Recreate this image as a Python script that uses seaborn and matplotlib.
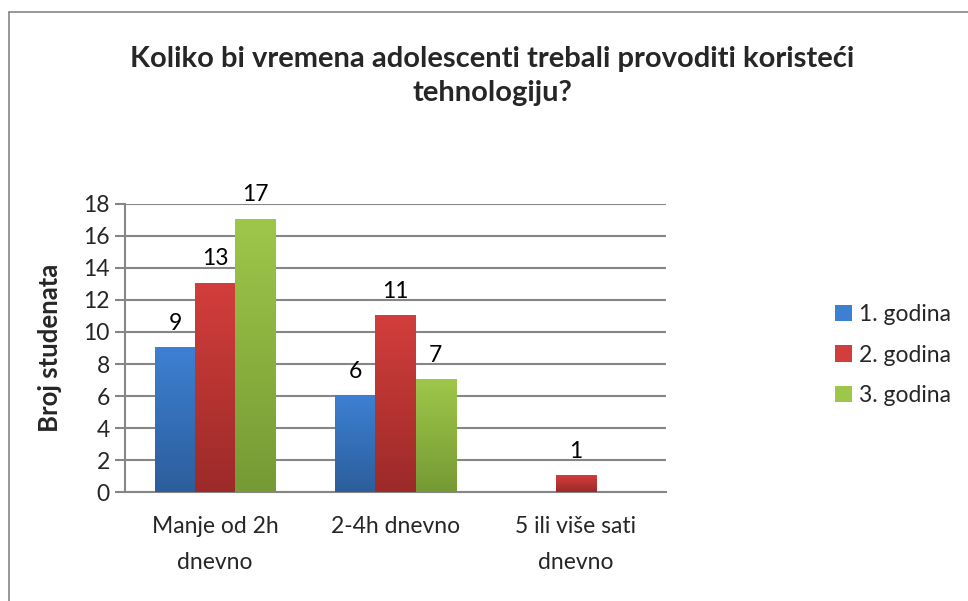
import numpy as np
import pandas as pd
import matplotlib
matplotlib.use("Agg")
import matplotlib.pyplot as plt
from matplotlib.colors import LinearSegmentedColormap
from matplotlib.patches import Patch
from matplotlib.lines import Line2D
import seaborn as sns

# Data
categories = ["Manje od 2h\ndnevno", "2-4h dnevno", "5 ili više sati\ndnevno"]
series = ["1. godina", "2. godina", "3. godina"]
godina1 = [9, 6, 0]
godina2 = [13, 11, 1]
godina3 = [17, 7, 0]
yticks = [0, 2, 4, 6, 8, 10, 12, 14, 16, 18]

title = "Koliko bi vremena adolescenti trebali provoditi koristeći\ntehnologiju?"
ylabel = "Broj studenata"

# Excel-like gradient colors (top, bottom)
grad = {
    "1. godina": ("#3D80D2", "#2C5E9C"),
    "2. godina": ("#D23E3B", "#9C2A29"),
    "3. godina": ("#9EC74A", "#769A34"),
}

df = pd.DataFrame({
    "kategorija": categories * 3,
    "godina": [series[0]] * 3 + [series[1]] * 3 + [series[2]] * 3,
    "broj": godina1 + godina2 + godina3,
})

sns.set_style("white")
plt.rcParams["font.family"] = ["Lato", "DejaVu Sans"]

fs = 16.5

fig = plt.figure(figsize=(9.68, 6.01), dpi=100)
ax = fig.add_axes([125 / 968, 1 - 492.3 / 601, (666 - 125) / 968, (492.3 - 203.7) / 601])

palette = {k: v[0] for k, v in grad.items()}
sns.barplot(data=df, x="kategorija", y="broj", hue="godina", order=categories,
            hue_order=series, palette=palette, width=0.67, ax=ax, legend=False,
            saturation=1, edgecolor="none", zorder=3)

ax.set_ylim(0, 18)

# gradient fill over each bar
for container, name in zip(ax.containers, series):
    cmap = LinearSegmentedColormap.from_list(name, [grad[name][1], grad[name][0]])
    for rect in container:
        x, w, h = rect.get_x(), rect.get_width(), rect.get_height()
        if h <= 0:
            continue
        g = np.linspace(0, 1, 100).reshape(-1, 1)
        ax.imshow(g, extent=[x, x + w, 0, h], origin="lower", aspect="auto",
                  cmap=cmap, zorder=3.5)
        ax.text(x + w / 2, h + 0.9, f"{h:g}", ha="center", va="bottom",
                fontsize=fs, color="#000000")
    for rect in container:
        rect.set_visible(False)

ax.set_xlim(-0.5, 2.5)
ax.set_ylim(0, 18)
ax.set_yticks(yticks)
ax.set_yticklabels([str(t) for t in yticks], fontsize=fs)
ax.set_xticks(range(len(categories)))
ax.set_xticklabels(categories, fontsize=fs, linespacing=1.9)
ax.tick_params(axis="x", length=0, pad=17)
ax.tick_params(axis="y", length=7, width=1.5, color="#868686", pad=4, left=True)
ax.yaxis.grid(True, color="#868686", linewidth=1.5, zorder=0)
ax.set_axisbelow(True)
for s in ["top", "right"]:
    ax.spines[s].set_visible(False)
for s in ["left", "bottom"]:
    ax.spines[s].set_color("#868686")
    ax.spines[s].set_linewidth(1.5)
ax.set_xlabel("")
ax.set_ylabel(ylabel, fontsize=18.5, fontweight="bold")
ax.yaxis.set_label_coords(-0.116, 0.5)

fig.text(492 / 968, 1 - 46 / 601, title, ha="center", va="top", fontsize=21,
         fontweight="bold", linespacing=1.4)

handles = [Patch(facecolor=grad[s][0], edgecolor="none") for s in series]
leg = fig.legend(handles, series, loc="center left", bbox_to_anchor=(814 / 968, 1 - 355 / 601),
                 frameon=False, fontsize=fs, handlelength=0.75, handleheight=0.75,
                 handletextpad=0.3, labelspacing=0.85)

# chart border (left & top visible)
fig.add_artist(Line2D([9 / 968, 9 / 968], [0, 1 - 11.5 / 601], transform=fig.transFigure,
                      color="#868686", linewidth=1.2))
fig.add_artist(Line2D([9 / 968, 1], [1 - 11.5 / 601, 1 - 11.5 / 601], transform=fig.transFigure,
                      color="#868686", linewidth=1.2))

fig.savefig("out.png", dpi=100)
